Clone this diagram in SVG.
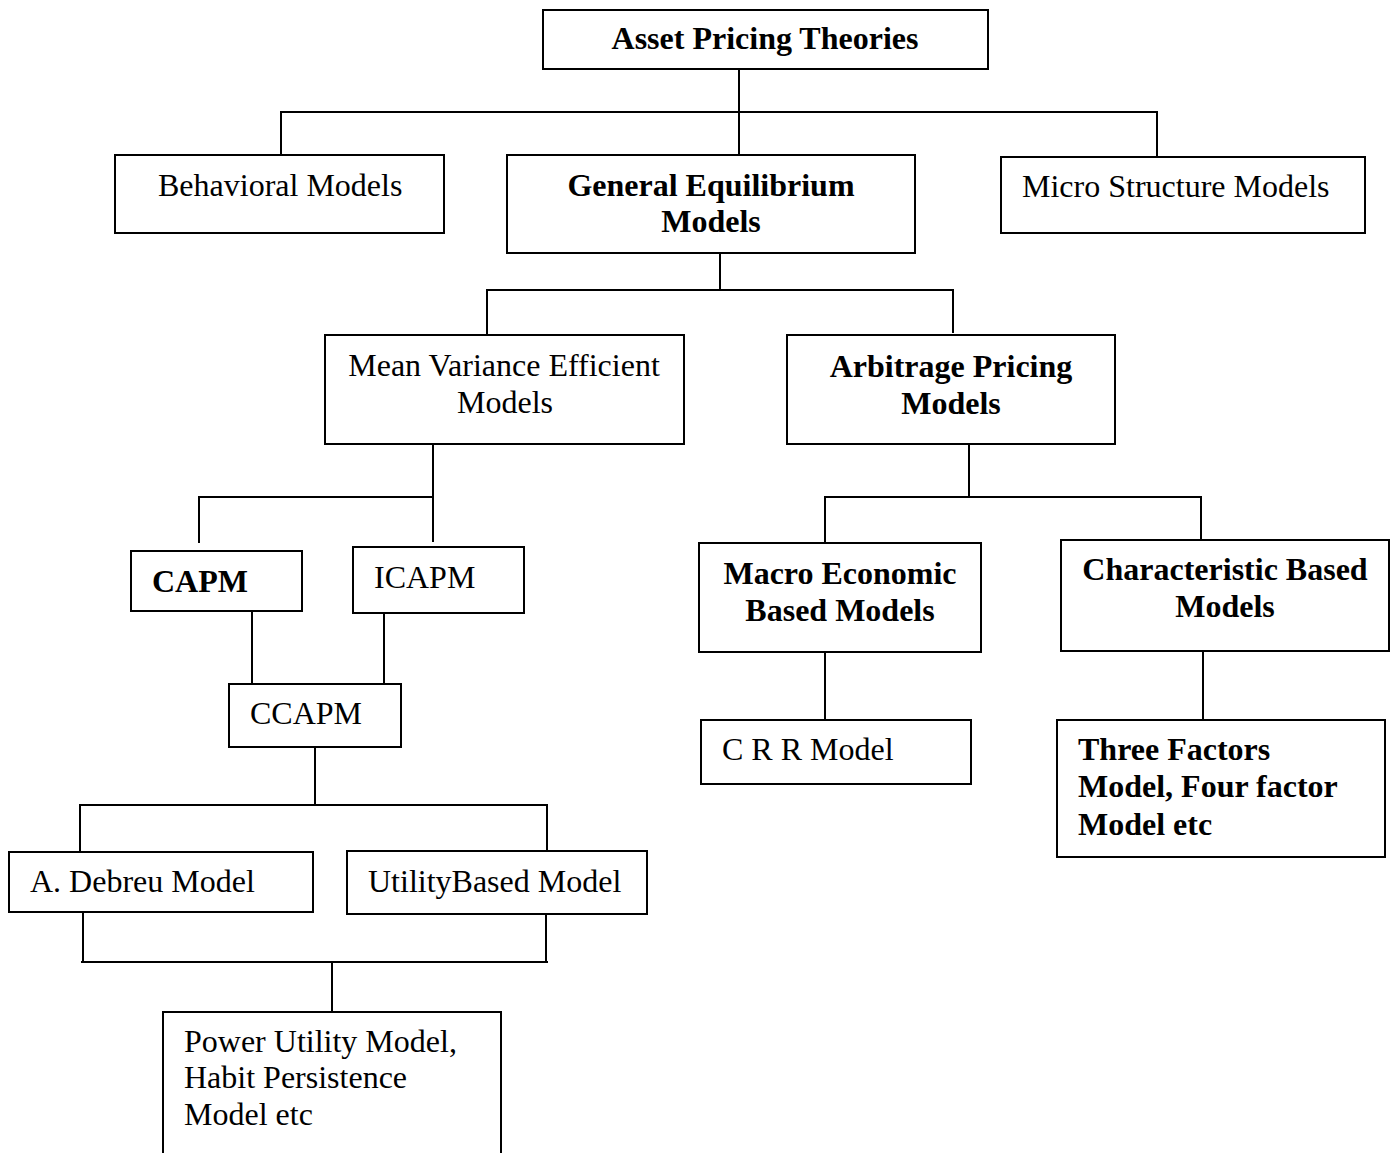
<svg xmlns="http://www.w3.org/2000/svg" width="1394" height="1153" viewBox="0 0 1394 1153">
<style>
rect{fill:#fff;stroke:#000;stroke-width:2}
.c{fill:none;stroke:#000;stroke-width:2}
text{font-family:"Liberation Serif","Times New Roman",serif;font-size:32px;fill:#000}
.b{font-weight:bold}
.m{text-anchor:middle}
</style>
<rect width="1394" height="1153" style="fill:#fff;stroke:none"/>
<g id="connectors" class="c">
<path d="M739 69V155M281 157V112H1157V157"/>
<path d="M720 253V290M487 335V290H953V333"/>
<path d="M433 444V542M199 543V497H433"/>
<path d="M969 444V497M825 543V497H1201V540"/>
<path d="M252 611V684M384 613V684"/>
<path d="M315 747V805M80 852V805H547V851"/>
<path d="M825 652V720M1203 651V720"/>
<path d="M83 912V962M546 914V962M81 962H548M332 962V1012"/>
</g>
<g id="root"><rect x="543" y="10" width="445" height="59"/><text class="b m" x="765" y="49">Asset Pricing Theories</text></g>
<g id="behavioral"><rect x="115" y="155" width="329" height="78"/><text x="158" y="196">Behavioral Models</text></g>
<g id="general"><rect x="507" y="155" width="408" height="98"/><text class="b m" x="711" y="196">General Equilibrium</text><text class="b m" x="711" y="232">Models</text></g>
<g id="micro"><rect x="1001" y="157" width="364" height="76"/><text x="1022" y="197">Micro Structure Models</text></g>
<g id="meanvar"><rect x="325" y="335" width="359" height="109"/><text class="m" x="504" y="376">Mean Variance Efficient</text><text class="m" x="505" y="413">Models</text></g>
<g id="arbitrage"><rect x="787" y="335" width="328" height="109"/><text class="b m" x="951" y="377">Arbitrage Pricing</text><text class="b m" x="951" y="414">Models</text></g>
<g id="capm"><rect x="131" y="551" width="171" height="60"/><text class="b" x="152" y="592">CAPM</text></g>
<g id="icapm"><rect x="353" y="547" width="171" height="66"/><text x="374" y="588">ICAPM</text></g>
<g id="ccapm"><rect x="229" y="684" width="172" height="63"/><text x="250" y="724">CCAPM</text></g>
<g id="macro"><rect x="699" y="543" width="282" height="109"/><text class="b m" x="840" y="584">Macro Economic</text><text class="b m" x="840" y="621">Based Models</text></g>
<g id="characteristic"><rect x="1061" y="540" width="328" height="111"/><text class="b m" x="1225" y="580">Characteristic Based</text><text class="b m" x="1225" y="617">Models</text></g>
<g id="crr"><rect x="701" y="720" width="270" height="64"/><text x="722" y="760">C R R Model</text></g>
<g id="threefactor"><rect x="1057" y="720" width="328" height="137"/><text class="b" x="1078" y="760">Three Factors</text><text class="b" x="1078" y="797">Model, Four factor</text><text class="b" x="1078" y="835">Model etc</text></g>
<g id="debreu"><rect x="9" y="852" width="304" height="60"/><text x="30" y="892">A. Debreu Model</text></g>
<g id="utility"><rect x="347" y="851" width="300" height="63"/><text x="368" y="892">UtilityBased Model</text></g>
<g id="power"><rect x="163" y="1012" width="338" height="160"/><text x="184" y="1052">Power Utility Model,</text><text x="184" y="1088">Habit Persistence</text><text x="184" y="1125">Model etc</text></g>
</svg>
